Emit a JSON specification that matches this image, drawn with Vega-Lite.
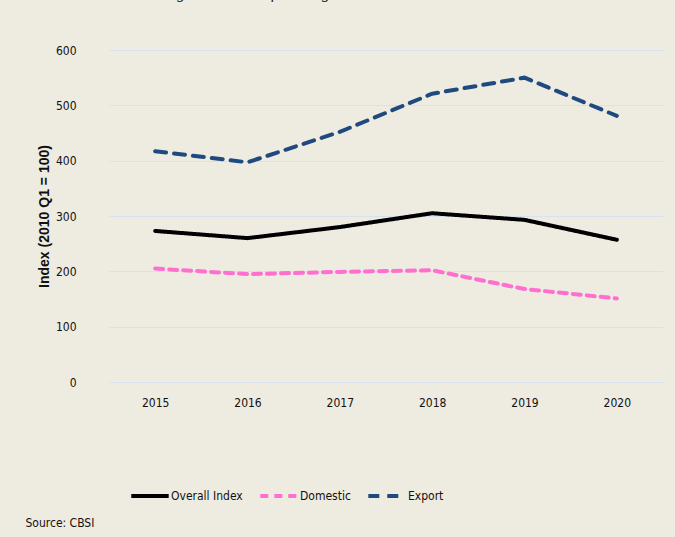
{
  "$schema": "https://vega.github.io/schema/vega-lite/v6.json",
  "width": 554,
  "height": 332,
  "autosize": {"type": "none"},
  "padding": {"left": 109, "top": 50, "right": 12, "bottom": 155},
  "background": "#eeebe1",
  "view": {"stroke": null},
  "title": {
    "text": "Figure 3.8 Manufacturing Index",
    "font": "Liberation Serif",
    "fontStyle": "italic",
    "fontWeight": "normal",
    "fontSize": 16,
    "color": "#222222",
    "anchor": "start",
    "frame": "group",
    "dx": 54,
    "offset": 43
  },
  "data": {
    "values": [
      {"year": "2015", "series": "Overall Index", "value": 273},
      {"year": "2016", "series": "Overall Index", "value": 260},
      {"year": "2017", "series": "Overall Index", "value": 280},
      {"year": "2018", "series": "Overall Index", "value": 305},
      {"year": "2019", "series": "Overall Index", "value": 293},
      {"year": "2020", "series": "Overall Index", "value": 257},
      {"year": "2015", "series": "Domestic", "value": 205},
      {"year": "2016", "series": "Domestic", "value": 195},
      {"year": "2017", "series": "Domestic", "value": 199},
      {"year": "2018", "series": "Domestic", "value": 202},
      {"year": "2019", "series": "Domestic", "value": 168},
      {"year": "2020", "series": "Domestic", "value": 151},
      {"year": "2015", "series": "Export", "value": 417},
      {"year": "2016", "series": "Export", "value": 397},
      {"year": "2017", "series": "Export", "value": 452},
      {"year": "2018", "series": "Export", "value": 521},
      {"year": "2019", "series": "Export", "value": 550},
      {"year": "2020", "series": "Export", "value": 481}
    ]
  },
  "mark": {"type": "line", "strokeWidth": 4, "strokeCap": "round"},
  "encoding": {
    "x": {
      "field": "year",
      "type": "ordinal",
      "scale": {"type": "point", "padding": 0.5},
      "axis": {
        "labelAngle": 0,
        "domain": false,
        "ticks": false,
        "grid": false,
        "labelPadding": 15,
        "labelFont": "DejaVu Sans Condensed, Liberation Sans",
        "labelFontSize": 12,
        "labelColor": "#111111",
        "title": "Source: CBSI",
        "titleFont": "DejaVu Sans Condensed, Liberation Sans",
        "titleFontSize": 12,
        "titleFontWeight": "normal",
        "titleColor": "#111111",
        "titleAnchor": "start",
        "titleAlign": "left",
        "titleBaseline": "middle",
        "titleX": -84,
        "titleY": 140
      }
    },
    "y": {
      "field": "value",
      "type": "quantitative",
      "scale": {"domain": [0, 600]},
      "axis": {
        "values": [0, 100, 200, 300, 400, 500, 600],
        "domain": false,
        "ticks": false,
        "gridColor": "#d6e2f0",
        "gridWidth": 1.2,
        "labelPadding": 33,
        "labelFont": "DejaVu Sans Condensed, Liberation Sans",
        "labelFontSize": 12,
        "labelColor": "#111111",
        "title": "Index (2010 Q1 = 100)",
        "titleFont": "Liberation Sans",
        "titleFontSize": 14,
        "titleFontWeight": "bold",
        "titleColor": "#111111",
        "titlePadding": 4
      }
    },
    "color": {
      "field": "series",
      "type": "nominal",
      "sort": ["Overall Index", "Domestic", "Export"],
      "scale": {
        "domain": ["Overall Index", "Domestic", "Export"],
        "range": ["#000000", "#ff6fcf", "#1f4a80"]
      },
      "legend": {
        "title": null,
        "orient": "none",
        "direction": "horizontal",
        "legendX": 20,
        "legendY": 425,
        "symbolType": "stroke",
        "symbolSize": 1400,
        "symbolStrokeWidth": 4,
        "labelFont": "DejaVu Sans Condensed, Liberation Sans",
        "labelFontSize": 12,
        "labelColor": "#111111",
        "labelOffset": 0,
        "columnPadding": 9
      }
    },
    "strokeDash": {
      "field": "series",
      "type": "nominal",
      "sort": ["Overall Index", "Domestic", "Export"],
      "scale": {
        "domain": ["Overall Index", "Domestic", "Export"],
        "range": [[1, 0], [8, 6], [11, 8]]
      },
      "legend": {
        "title": null,
        "orient": "none",
        "direction": "horizontal",
        "legendX": 20,
        "legendY": 425,
        "symbolType": "stroke",
        "symbolSize": 1400,
        "symbolStrokeWidth": 4,
        "labelFont": "DejaVu Sans Condensed, Liberation Sans",
        "labelFontSize": 12,
        "labelColor": "#111111",
        "labelOffset": 0,
        "columnPadding": 9
      }
    }
  }
}
